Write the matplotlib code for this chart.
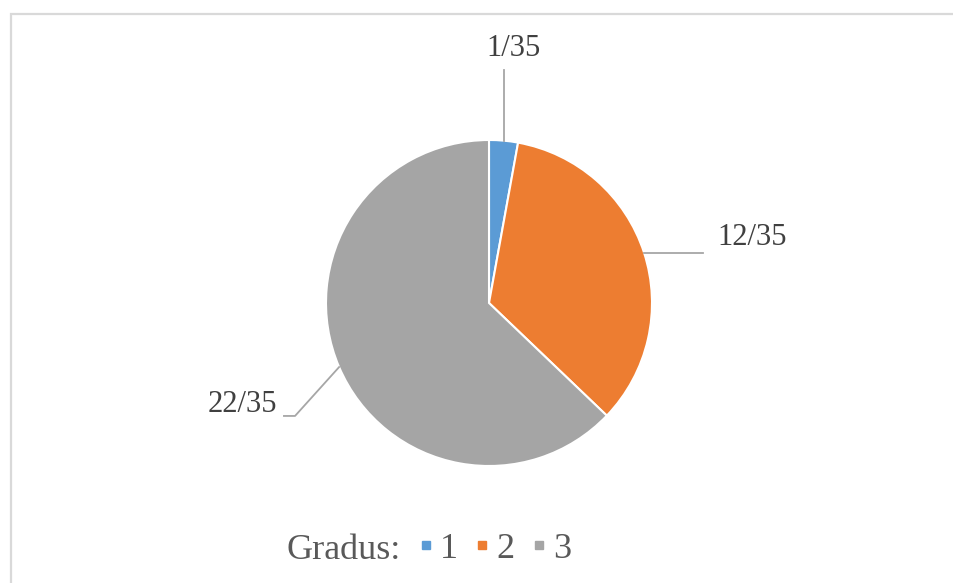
import numpy as np
import matplotlib.pyplot as plt
from matplotlib.lines import Line2D
from matplotlib.patches import Rectangle

plt.rcParams['font.family'] = ['Liberation Serif', 'DejaVu Serif']

grades = ['1', '2', '3']
counts = [1, 12, 22]
total = 35
labels = [f"{c}/{total}" for c in counts]
colors = ['#5B9BD5', '#ED7D31', '#A5A5A5']

W, H = 954, 583
fig = plt.figure(figsize=(W / 100, H / 100), dpi=100)

# light frame of the chart area
fig.patches.append(Rectangle((11 / W, -0.1), 1.2, 1 - 14.5 / H + 0.1,
                             transform=fig.transFigure, fill=False,
                             edgecolor='#d9d9d9', linewidth=1.6))

# pie axes: centre (489, 303) px, radius 163 px
cx, cy, r = 489, 303, 163
ax = fig.add_axes([(cx - r) / W, (H - cy - r) / H, 2 * r / W, 2 * r / H])
wedges, _ = ax.pie(counts, colors=colors, startangle=90, counterclock=False,
                   radius=1, wedgeprops=dict(edgecolor='white', linewidth=1.5))
ax.set_xlim(-1, 1)
ax.set_ylim(-1, 1)
ax.axis('off')

lead = '#a6a6a6'
txt = '#404040'

def edge_point(w):
    a = np.deg2rad((w.theta1 + w.theta2) / 2)
    return np.cos(a), np.sin(a)

# 1/35 - vertical leader
x0, y0 = edge_point(wedges[0])
ax.plot([x0, x0], [y0, 1.43], color=lead, lw=1.3, clip_on=False)
ax.text(0.15, 1.56, labels[0], ha='center', va='center', fontsize=22, color=txt)

# 12/35 - horizontal leader
x1, y1 = edge_point(wedges[1])
ax.plot([x1, 1.313], [y1, y1], color=lead, lw=1.3, clip_on=False)
ax.text(1.399, 0.40, labels[1], ha='left', va='center', fontsize=22, color=txt)

# 22/35 - bent leader
x2, y2 = edge_point(wedges[2])
ax.plot([x2, -1.19, -1.258], [y2, -0.693, -0.693], color=lead, lw=1.3, clip_on=False)
ax.text(-1.30, -0.62, labels[2], ha='right', va='center', fontsize=22, color=txt)

# legend
fig.text(287 / W, 24 / H, 'Gradus:', ha='left', va='baseline', fontsize=26, color='#595959')
handles = [Line2D([], [], marker='s', linestyle='none', markersize=6,
                  markerfacecolor=c, markeredgecolor=c) for c in colors]
fig.legend(handles, grades, ncol=3, loc='center left',
           bbox_to_anchor=(416.7 / W, 34 / H), frameon=False, fontsize=26,
           handlelength=0.5, handletextpad=0.15, columnspacing=0.42,
           borderaxespad=0, borderpad=0, labelcolor='#595959')

fig.savefig('out.png', dpi=100)
